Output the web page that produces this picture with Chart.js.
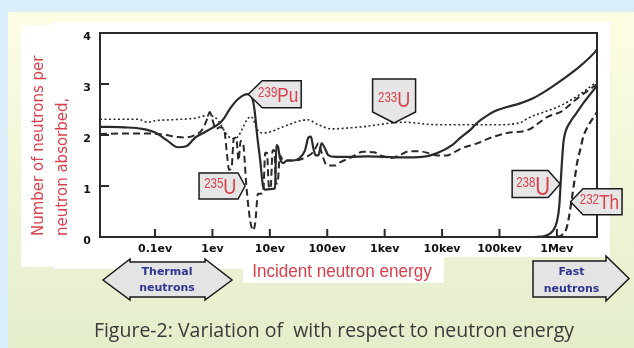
<!DOCTYPE html>
<html>
<head>
<meta charset="utf-8">
<script src="https://cdn.jsdelivr.net/npm/chart.js@4.4.1/dist/chart.umd.min.js"></script>
<style>
  html, body { margin: 0; padding: 0; overflow: hidden; background: #d9eef9; }
  #chart { display: block; }
</style>
</head>
<body>
<canvas id="chart" width="634" height="348"></canvas>
<script>
// energies in eV, values = neutrons released per neutron absorbed
const xTickValues = [0.1, 1, 10, 100, 1e3, 1e4, 1e5, 1e6];
const xTickLabels = ["0.1ev", "1ev", "10ev", "100ev", "1kev", "10kev", "100kev", "1Mev"];
const yTickLabels = ["0", "1", "2", "3", "4"];

const pu239Energy = [0.011, 0.03, 0.06, 0.1, 0.16, 0.25, 0.35, 0.5, 0.75, 1.0, 1.3, 1.6, 1.9, 2.3, 2.9, 3.6, 4.2, 4.8, 5.4, 6.0, 6.8, 7.6, 8.3, 10, 12.3, 13.0, 13.8, 15, 17, 20, 25, 33, 41, 47, 52, 57, 63, 70, 80, 90, 105, 140, 250, 500, 1000, 2000, 4500, 8000, 15000, 21000, 31000, 42000, 61000, 84000, 136000, 228000, 385000, 675000, 1230000, 2540000, 4630000, 5000000];
const pu239Nu = [2.16, 2.15, 2.12, 2.05, 1.9, 1.76, 1.78, 1.95, 2.06, 2.14, 2.22, 2.33, 2.47, 2.6, 2.72, 2.79, 2.8, 2.76, 2.5, 2.0, 1.5, 1.0, 0.93, 0.94, 0.95, 1.8, 1.78, 1.55, 1.45, 1.5, 1.5, 1.55, 1.7, 1.95, 1.97, 1.75, 1.6, 1.6, 1.84, 1.75, 1.6, 1.57, 1.57, 1.58, 1.57, 1.56, 1.57, 1.64, 1.8, 1.95, 2.1, 2.25, 2.38, 2.47, 2.55, 2.62, 2.72, 2.88, 3.08, 3.35, 3.63, 3.68];

const u235Energy = [0.011, 0.04, 0.08, 0.15, 0.25, 0.33, 0.5, 0.66, 0.8, 0.9, 1.0, 1.15, 1.35, 1.6, 1.8, 1.95, 2.15, 2.35, 2.6, 2.85, 3.1, 3.4, 3.9, 4.5, 5.1, 5.6, 6.2, 7.0, 7.7, 8.3, 8.9, 9.6, 10.3, 11.2, 12.0, 12.8, 13.6, 15, 17, 20, 26, 34, 45, 55, 63, 70, 80, 92, 105, 135, 170, 250, 420, 650, 900, 1300, 1800, 2600, 4000, 6000, 8200, 12000, 16000, 22000, 42000, 61000, 136000, 315000, 675000, 1230000, 1920000, 2540000, 4270000, 5000000];
const u235Nu = [2.02, 2.03, 2.03, 2.0, 1.96, 1.95, 2.0, 2.1, 2.3, 2.45, 2.3, 2.12, 2.15, 2.1, 1.6, 1.32, 1.35, 1.92, 1.95, 1.5, 1.88, 1.85, 1.0, 0.35, 0.13, 0.3, 0.85, 0.85, 0.9, 1.65, 1.65, 1.0, 0.95, 1.7, 1.7, 1.05, 1.05, 1.6, 1.5, 1.5, 1.5, 1.52, 1.58, 1.65, 1.75, 1.84, 1.65, 1.45, 1.4, 1.4, 1.47, 1.55, 1.67, 1.66, 1.59, 1.55, 1.6, 1.68, 1.68, 1.64, 1.6, 1.6, 1.66, 1.74, 1.84, 1.92, 2.04, 2.1, 2.35, 2.47, 2.65, 2.76, 2.94, 3.0];

const u233Energy = [0.011, 0.05, 0.075, 0.1, 0.2, 0.5, 0.8, 1.1, 1.4, 1.8, 2.3, 2.8, 3.4, 4.0, 4.6, 5.2, 5.8, 6.5, 7.6, 10, 17, 30, 45, 70, 120, 250, 400, 1000, 1460, 2300, 5700, 20000, 84000, 228000, 315000, 1230000, 2540000, 4630000, 5000000];
const u233Nu = [2.31, 2.31, 2.25, 2.28, 2.3, 2.33, 2.38, 2.35, 2.2, 2.0, 1.93, 1.97, 2.15, 2.3, 2.36, 2.3, 2.15, 2.06, 2.04, 2.06, 2.16, 2.26, 2.3, 2.2, 2.12, 2.14, 2.16, 2.22, 2.24, 2.25, 2.21, 2.2, 2.2, 2.24, 2.33, 2.59, 2.8, 3.02, 3.05];

const u238Energy = [400000, 620000, 850000, 1000000, 1100000, 1170000, 1230000, 1300000, 1400000, 1700000, 2100000, 3000000, 4630000, 5000000];
const u238Nu = [0, 0.02, 0.12, 0.3, 0.6, 1.1, 1.5, 1.85, 2.05, 2.25, 2.4, 2.65, 2.92, 2.97];

const th232Energy = [1000000, 1230000, 1450000, 1600000, 1850000, 2050000, 2250000, 2600000, 2870000, 3600000, 4630000, 5000000];
const th232Nu = [0, 0.04, 0.15, 0.35, 0.8, 1.15, 1.45, 1.75, 1.96, 2.2, 2.39, 2.45];

// callout tags, anchored on the curves in data units
const tags = [
  { sup: "239", main: "Pu", at: [4.2, 2.8], dir: "left", w: 39, h: 27, notch: 14, size: 21, dy: 0 },
  { sup: "235", main: "U", at: [3.7, 1.0], dir: "right", w: 39, h: 26, notch: 7, size: 22, dy: 0 },
  { sup: "233", main: "U", at: [1460, 2.235], dir: "down", w: 43, h: 33, notch: 11, size: 22, dy: 4 },
  { sup: "238", main: "U", at: [1.14e6, 1.04], dir: "right", w: 36, h: 27, notch: 12, size: 25, dy: 2 },
  { sup: "232", main: "Th", at: [1.73e6, 0.69], dir: "left", w: 39, h: 26, notch: 12.5, size: 21, dy: 0 }
];

const INK = "#2a2a2a";
const RED = "#d8414c";
const BLUE = "#2f3590";

function pts(xs, ys) {
  return xs.map((x, i) => ({ x: x, y: ys[i] }));
}

function poly(ctx, p) {
  ctx.beginPath();
  ctx.moveTo(p[0][0], p[0][1]);
  for (let i = 1; i < p.length; i++) ctx.lineTo(p[i][0], p[i][1]);
  ctx.closePath();
  ctx.fill();
  ctx.stroke();
}

function drawTag(ctx, t, xs, ys) {
  const tx = xs.getPixelForValue(t.at[0]);
  const ty = ys.getPixelForValue(t.at[1]);
  const n = t.notch, w = t.w, h = t.h;
  let shape, cx, cy;
  if (t.dir === "left") {
    shape = [[tx, ty], [tx + n, ty - h / 2], [tx + n + w, ty - h / 2], [tx + n + w, ty + h / 2], [tx + n, ty + h / 2]];
    cx = tx + n + w / 2 - n / 4; cy = ty;
  } else if (t.dir === "right") {
    shape = [[tx, ty], [tx - n, ty + h / 2], [tx - n - w, ty + h / 2], [tx - n - w, ty - h / 2], [tx - n, ty - h / 2]];
    cx = tx - n - w / 2 + n / 4; cy = ty;
  } else {
    shape = [[tx, ty], [tx - w / 2, ty - n], [tx - w / 2, ty - n - h], [tx + w / 2, ty - n - h], [tx + w / 2, ty - n]];
    cx = tx; cy = ty - n - h / 2;
  }
  ctx.fillStyle = "#e6e6e6";
  ctx.strokeStyle = "#1a1a1a";
  ctx.lineWidth = 1.5;
  poly(ctx, shape);

  // narrow text: Liberation Sans squeezed horizontally
  const sx = 0.82, supSize = 14;
  ctx.font = supSize + "px 'Liberation Sans'";
  const ws = ctx.measureText(t.sup).width * sx;
  ctx.font = t.size + "px 'Liberation Sans'";
  const wm = ctx.measureText(t.main).width * sx;
  const x0 = cx - (ws + wm) / 2;
  const base = cy + 0.72 * t.size / 2 + t.dy;
  const supBase = base - 0.72 * t.size + 0.72 * supSize;
  ctx.fillStyle = RED;
  ctx.textAlign = "left";
  ctx.textBaseline = "alphabetic";
  ctx.save();
  ctx.translate(x0, 0);
  ctx.scale(sx, 1);
  ctx.font = supSize + "px 'Liberation Sans'";
  ctx.fillText(t.sup, 0, supBase);
  ctx.font = t.size + "px 'Liberation Sans'";
  ctx.fillText(t.main, ws / sx, base);
  ctx.restore();
}

const decor = {
  id: "decor",
  beforeDraw(chart) {
    const ctx = chart.ctx;
    ctx.save();
    ctx.fillStyle = "#d9eef9";
    ctx.fillRect(0, 0, 634, 348);
    const g = ctx.createLinearGradient(0, 12, 0, 348);
    g.addColorStop(0, "#fdfde4");
    g.addColorStop(1, "#e4eecb");
    ctx.fillStyle = g;
    ctx.fillRect(8, 12, 626, 336);
    ctx.fillStyle = "#ffffff";
    ctx.fillRect(21, 25, 32, 242);
    ctx.fillRect(53, 22, 190, 247);
    ctx.fillRect(243, 22, 201, 261);
    ctx.fillRect(444, 22, 166, 235);
    ctx.restore();
  },
  afterDraw(chart) {
    const ctx = chart.ctx;
    const a = chart.chartArea;
    const xs = chart.scales.x, ys = chart.scales.y;
    ctx.save();

    // frame and inward ticks
    ctx.strokeStyle = INK;
    ctx.lineWidth = 2;
    ctx.strokeRect(a.left, a.top, a.right - a.left, a.bottom - a.top);
    ctx.beginPath();
    xTickValues.forEach(v => {
      const x = xs.getPixelForValue(v);
      ctx.moveTo(x, a.bottom);
      ctx.lineTo(x, a.bottom - 8);
    });
    [1, 2, 3].forEach(v => {
      const y = ys.getPixelForValue(v);
      ctx.moveTo(a.left, y);
      ctx.lineTo(a.left + 9, y);
    });
    ctx.stroke();

    // axis titles
    ctx.fillStyle = RED;
    ctx.font = "15px 'DejaVu Sans'";
    ctx.textAlign = "left";
    ctx.textBaseline = "alphabetic";
    [["Number of neutrons per", 42.5], ["neutron absorbed,", 66.5]].forEach(([txt, x]) => {
      ctx.save();
      ctx.translate(x, 236);
      ctx.rotate(-Math.PI / 2);
      ctx.fillText(txt, 0, 0);
      ctx.restore();
    });
    ctx.save();
    ctx.translate(342, 277);
    ctx.scale(0.9, 1);
    ctx.textAlign = "center";
    ctx.font = "19px 'Liberation Sans'";
    ctx.fillText("Incident neutron energy", 0, 0);
    ctx.restore();

    // callouts
    tags.forEach(t => drawTag(ctx, t, xs, ys));

    // thermal / fast arrows
    ctx.fillStyle = "#e4e4e4";
    ctx.strokeStyle = "#1a1a1a";
    ctx.lineWidth = 1.5;
    poly(ctx, [[103, 280], [130, 259], [130, 262], [205, 262], [205, 259], [232, 280], [205, 300], [205, 297], [130, 297], [130, 300]]);
    poly(ctx, [[533, 261], [606, 261], [606, 256], [629, 278.5], [606, 301], [606, 297], [533, 297]]);
    ctx.fillStyle = BLUE;
    ctx.font = "bold 11px 'DejaVu Sans'";
    ctx.textAlign = "center";
    ctx.fillText("Thermal", 167, 275);
    ctx.fillText("neutrons", 167, 291);
    ctx.fillText("Fast", 571.5, 275);
    ctx.fillText("neutrons", 571.5, 291.5);

    // caption
    ctx.fillStyle = "#3a3a3a";
    ctx.font = "19.5px 'Open Sans'";
    ctx.fillText("Figure-2: Variation of  with respect to neutron energy", 334, 337);
    ctx.restore();
  }
};

const lineBase = { borderColor: INK, pointRadius: 0, fill: false, cubicInterpolationMode: "monotone" };

new Chart(document.getElementById("chart"), {
  type: "line",
  data: {
    datasets: [
      Object.assign({ label: "233U", data: pts(u233Energy, u233Nu), borderWidth: 1.6, borderDash: [2, 2.5] }, lineBase),
      Object.assign({ label: "235U", data: pts(u235Energy, u235Nu), borderWidth: 2, borderDash: [7, 4] }, lineBase),
      Object.assign({ label: "239Pu", data: pts(pu239Energy, pu239Nu), borderWidth: 2.2 }, lineBase),
      Object.assign({ label: "238U", data: pts(u238Energy, u238Nu), borderWidth: 2.2 }, lineBase),
      Object.assign({ label: "232Th", data: pts(th232Energy, th232Nu), borderWidth: 2.2, borderDash: [7, 4] }, lineBase)
    ]
  },
  options: {
    responsive: false,
    animation: false,
    devicePixelRatio: 1,
    layout: { padding: { left: 0, top: 33, right: 37, bottom: 0 } },
    plugins: { legend: { display: false }, tooltip: { enabled: false } },
    scales: {
      x: {
        type: "logarithmic",
        min: 0.011,
        max: 5e6,
        afterBuildTicks: scale => { scale.ticks = xTickValues.map(v => ({ value: v })); },
        afterFit: scale => { scale.height = 111; },
        grid: { display: false, drawTicks: false },
        border: { display: false },
        ticks: {
          autoSkip: false,
          maxRotation: 0,
          padding: 6,
          color: "#111",
          font: { family: "DejaVu Sans", size: 11, weight: "bold" },
          callback: (v, i) => xTickLabels[i]
        }
      },
      y: {
        min: 0,
        max: 4,
        afterFit: scale => { scale.width = 100; },
        grid: { display: false, drawTicks: false },
        border: { display: false },
        ticks: {
          stepSize: 1,
          padding: 9,
          labelOffset: 4,
          color: "#111",
          font: { family: "DejaVu Sans", size: 11, weight: "bold" },
          callback: (v, i) => yTickLabels[i]
        }
      }
    }
  },
  plugins: [decor]
});
</script>
</body>
</html>
